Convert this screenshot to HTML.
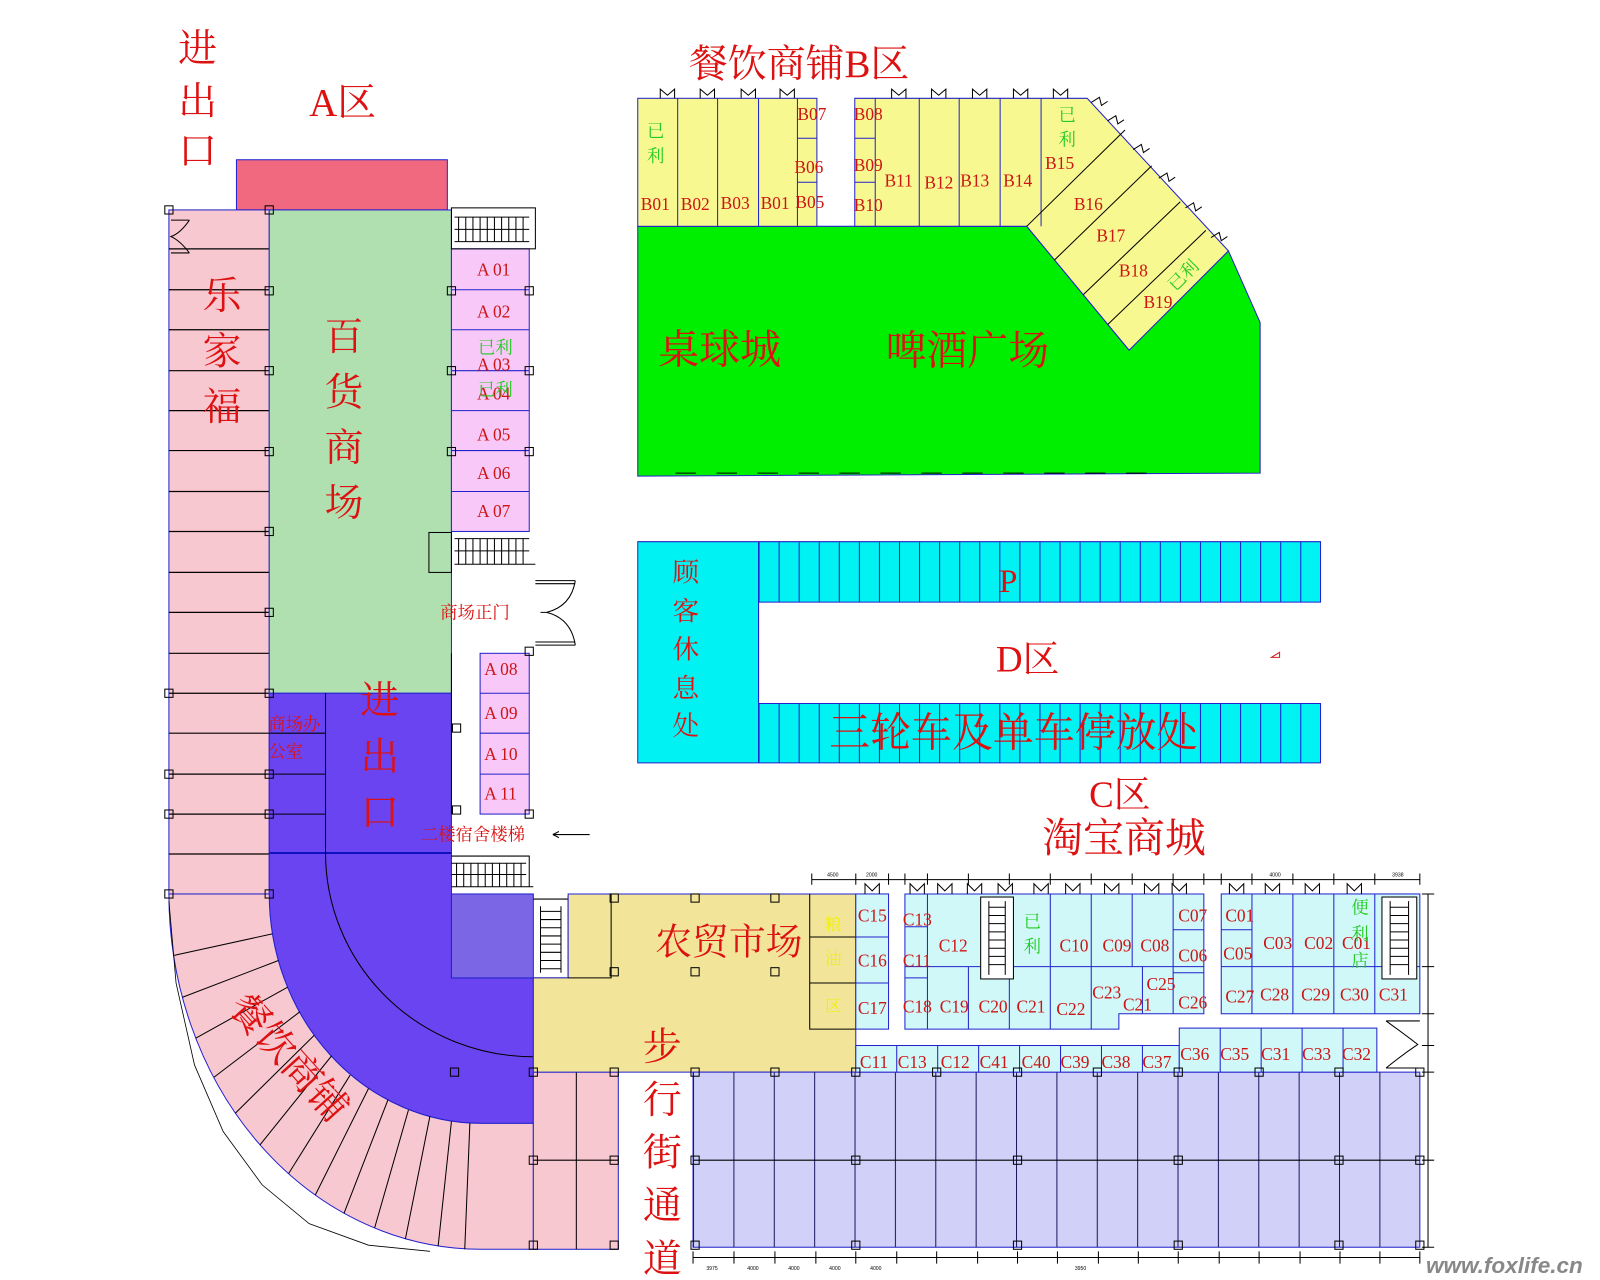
<!DOCTYPE html>
<html><head><meta charset="utf-8"><style>
html,body{margin:0;padding:0;background:#fff;}
svg{display:block;}
.cn{font-family:"Liberation Serif","Noto Serif CJK SC",serif;fill:#dd1111;}
.lb{font-family:"Liberation Serif","Noto Serif CJK SC",serif;fill:#cc1515;font-size:17px;}
.gr{font-family:"Liberation Serif","Noto Serif CJK SC",serif;fill:#22cc22;font-size:17px;}
</style></head><body>
<svg width="1600" height="1280" viewBox="0 0 1563 1250" preserveAspectRatio="none" xmlns="http://www.w3.org/2000/svg">
<defs>
<pattern id="pv20" x="741" y="0" width="19.6" height="10" patternUnits="userSpaceOnUse"><line x1="0.5" y1="0" x2="0.5" y2="10" stroke="#1a1ad0" stroke-width="1"/></pattern>
<pattern id="pv39" x="677" y="0" width="39.44" height="10" patternUnits="userSpaceOnUse"><line x1="0.5" y1="0" x2="0.5" y2="10" stroke="#1a1a60" stroke-width="1"/></pattern>
</defs>
<rect width="1563" height="1250" fill="#fff"/>

<!-- A area -->
<rect x="231" y="156" width="206" height="49" fill="#f0697f" stroke="#2222cc"/>
<rect x="165" y="205" width="98" height="668" fill="#f8c8d0" stroke="#2222cc"/>
<g stroke="#000" stroke-width="1.2">
<line x1="165" y1="243" x2="263" y2="243"/><line x1="165" y1="283" x2="263" y2="283"/><line x1="165" y1="322" x2="263" y2="322"/><line x1="165" y1="362" x2="263" y2="362"/><line x1="165" y1="401" x2="263" y2="401"/><line x1="165" y1="440" x2="263" y2="440"/><line x1="165" y1="480" x2="263" y2="480"/><line x1="165" y1="519" x2="263" y2="519"/><line x1="165" y1="559" x2="263" y2="559"/><line x1="165" y1="598" x2="263" y2="598"/><line x1="165" y1="638" x2="263" y2="638"/><line x1="165" y1="677" x2="263" y2="677"/><line x1="165" y1="716" x2="263" y2="716"/><line x1="165" y1="756" x2="263" y2="756"/><line x1="165" y1="795" x2="263" y2="795"/><line x1="165" y1="834" x2="263" y2="834"/>
</g>
<rect x="263" y="205" width="178" height="472" fill="#b0dfb0" stroke="#2222cc"/>
<!-- purple -->
<path d="M263,677 H441 V955 H521 V1097 H470 A207 224 0 0 1 263 873 Z" fill="#6a44f0" stroke="#2222cc"/>
<rect x="441" y="873" width="80" height="82" fill="#7b66e6" stroke="#2222cc"/>
<line x1="263" y1="833" x2="441" y2="833" stroke="#1010c0" stroke-width="2"/>
<line x1="318" y1="677" x2="318" y2="833" stroke="#000"/>
<line x1="263" y1="716" x2="318" y2="716" stroke="#000"/>
<line x1="263" y1="756" x2="318" y2="756" stroke="#000"/>
<line x1="263" y1="795" x2="318" y2="795" stroke="#000"/>
<path d="M318,833 A203 199 0 0 0 521 1032" fill="none" stroke="#000"/>
<!-- curved pink band -->
<path d="M165,873 H263 A207 224 0 0 0 470 1097 H521 V1220 H470 A305 347 0 0 1 165 873 Z" fill="#f8c8d0" stroke="#2222cc"/>
<g stroke="#000" stroke-width="1">
<line x1="266" y1="912" x2="170" y2="933"/><line x1="272" y1="938" x2="178" y2="974"/><line x1="281" y1="964" x2="191" y2="1014"/><line x1="293" y1="988" x2="209" y2="1052"/><line x1="307" y1="1011" x2="230" y2="1087"/><line x1="324" y1="1031" x2="254" y2="1118"/><line x1="342" y1="1050" x2="282" y2="1146"/><line x1="360" y1="1063" x2="308" y2="1167"/><line x1="379" y1="1074" x2="336" y2="1185"/><line x1="399" y1="1084" x2="366" y2="1199"/><line x1="420" y1="1090" x2="396" y2="1210"/><line x1="441" y1="1095" x2="428" y2="1217"/><line x1="459" y1="1097" x2="454" y2="1220"/>
</g>
<polyline points="165,880 172,960 190,1040 218,1105 256,1157 302,1195 360,1216 420,1222" fill="none" stroke="#000" stroke-width="0.8"/>
<rect x="521" y="1047" width="83" height="173" fill="#f8c8d0" stroke="#2222cc"/>
<line x1="563" y1="1047" x2="563" y2="1220" stroke="#000"/>
<line x1="521" y1="1133" x2="604" y2="1133" stroke="#000"/>

<!-- A shops -->
<rect x="441" y="243" width="76" height="276" fill="#f8c8f8" stroke="#2222cc"/>
<g stroke="#2222cc"><line x1="441" y1="283" x2="517" y2="283"/><line x1="441" y1="322" x2="517" y2="322"/><line x1="441" y1="362" x2="517" y2="362"/><line x1="441" y1="401" x2="517" y2="401"/><line x1="441" y1="440" x2="517" y2="440"/><line x1="441" y1="480" x2="517" y2="480"/></g>
<rect x="469" y="638" width="48" height="157" fill="#f8c8f8" stroke="#2222cc"/>
<g stroke="#2222cc"><line x1="469" y1="677" x2="517" y2="677"/><line x1="469" y1="716" x2="517" y2="716"/><line x1="469" y1="756" x2="517" y2="756"/></g>
<line x1="441" y1="638" x2="441" y2="795" stroke="#000"/>
<!-- stairs -->
<g stroke="#000" fill="none">
<rect x="441" y="203" width="82" height="40"/>
<path d="M444,212 H517 M444,224 H517 M444,236 H517 M448,212 V236 M455,212 V236 M462,212 V236 M469,212 V236 M476,212 V236 M483,212 V236 M490,212 V236 M497,212 V236 M504,212 V236 M511,212 V236"/>
<rect x="419" y="520" width="22" height="39"/>
<path d="M444,526 H517 M444,538 H517 M444,551 H523 M448,526 V551 M455,526 V551 M462,526 V551 M469,526 V551 M476,526 V551 M483,526 V551 M490,526 V551 M497,526 V551 M504,526 V551 M511,526 V551"/>
<path d="M441,836 H517 V866 M441,843 H514 M441,854 H514 M441,866 H521 M446,843 V866 M453,843 V866 M460,843 V866 M467,843 V866 M474,843 V866 M481,843 V866 M488,843 V866 M495,843 V866 M502,843 V866 M509,843 V866"/>
<path d="M521,878 H555 M521,955 H555 M528,885 V950 M548,885 V950 M528,890 H548 M528,898 H548 M528,906 H548 M528,914 H548 M528,922 H548 M528,930 H548 M528,938 H548 M528,946 H548 M555,875 V955"/>
<!-- door -->
<path d="M523,567 H562 M523,570 H562 M523,627 H562 M523,630 H562 M562,567 Q558,592 534,598 M562,630 Q558,604 534,598 M528,598 H534"/>
<path d="M167,215 H185 M167,247 H185 M185,215 Q176,228 167,231 Q176,235 185,247"/>
<path d="M540,815 H576 M540,815 l6,-3 M540,815 l6,3"/>
</g>

<!-- farmers market -->
<path d="M555,873 H836 V1047 H521 V955 H555 Z" fill="#f2e59a" stroke="#2222cc"/>
<g stroke="#000" fill="none"><path d="M555,955 H597 V873 M791,873 V1005 H836 M791,915 H836 M791,960 H836"/></g>

<!-- lavender -->
<rect x="677" y="1047" width="710" height="171" fill="#d0d0f8" stroke="#2222cc"/>
<rect x="677" y="1047" width="710" height="171" fill="url(#pv39)"/>
<line x1="677" y1="1133" x2="1387" y2="1133" stroke="#000"/>

<!-- C shops -->
<g fill="#d0f8f8" stroke="#2222cc">
<rect x="836" y="873" width="32" height="132"/>
<path d="M884,873 H1176 V990 H1093 V1005 H884 Z"/>
<rect x="1193" y="873" width="194" height="117"/>
<rect x="836" y="1021" width="316" height="26"/>
<rect x="1152" y="1004" width="193" height="43"/>
</g>
<g stroke="#2222cc" fill="none">
<path d="M836,915 H868 M836,960 H868 M884,905 H906 M884,955 H906 M906,873 V1005 M884,944 H1176 M946,944 V1005 M986,944 V1005 M1026,944 V1005 M1066,944 V1005 M1026,873 V944 M1066,873 V944 M1106,873 V944 M1146,873 V990 M1116,944 V990 M1146,908 H1176 M1146,950 H1176"/>
<path d="M1223,873 V990 M1193,908 H1223 M1193,944 H1387 M1263,873 V990 M1303,873 V990 M1343,873 V990"/>
<path d="M876,1021 V1047 M916,1021 V1047 M956,1021 V1047 M996,1021 V1047 M1036,1021 V1047 M1076,1021 V1047 M1116,1021 V1047 M1192,1004 V1047 M1232,1004 V1047 M1272,1004 V1047 M1312,1004 V1047"/>
</g>
<g fill="#fff" stroke="#000"><rect x="958" y="876" width="32" height="80"/><rect x="1350" y="876" width="34" height="80"/></g>
<g stroke="#000"><path d="M966,880 V952 M982,880 V952 M966,886 H982 M966,894 H982 M966,902 H982 M966,910 H982 M966,918 H982 M966,926 H982 M966,934 H982 M966,942 H982 M1358,880 V952 M1376,880 V952 M1358,886 H1376 M1358,894 H1376 M1358,902 H1376 M1358,910 H1376 M1358,918 H1376 M1358,926 H1376 M1358,934 H1376 M1358,942 H1376"/></g>
<!-- dimension lines -->
<g stroke="#000" stroke-width="1" fill="none">
<path d="M793,859 H1387 M793,853 V864 M836,853 V864 M868,853 V864 M884,853 V864 M906,853 V864 M946,853 V864 M986,853 V864 M1026,853 V864 M1066,853 V864 M1106,853 V864 M1146,853 V864 M1176,853 V864 M1193,853 V864 M1223,853 V864 M1263,853 V864 M1303,853 V864 M1343,853 V864 M1387,853 V864"/>
<path d="M677,1228 H1387 M677,1222 V1234 M717,1222 V1234 M757,1222 V1234 M797,1222 V1234 M836,1222 V1234 M876,1222 V1234 M915,1222 V1234 M955,1222 V1234 M994,1222 V1234 M1033,1222 V1234 M1073,1222 V1234 M1112,1222 V1234 M1151,1222 V1234 M1191,1222 V1234 M1230,1222 V1234 M1270,1222 V1234 M1309,1222 V1234 M1348,1222 V1234 M1387,1222 V1234"/>
<path d="M1395,873 V1218 M1389,873 H1401 M1389,944 H1401 M1389,990 H1401 M1389,1021 H1401 M1389,1047 H1401 M1389,1133 H1401 M1389,1218 H1401"/>
<path d="M1387,997 H1354 M1387,1043 H1354 M1354,997 Q1372,1010 1385,1020 Q1370,1030 1354,1043"/>
</g>
<g font-family="Liberation Sans" font-size="5" fill="#000">
<text x="808" y="856">4500</text><text x="846" y="856">2000</text><text x="1240" y="856">4000</text><text x="1360" y="856">3938</text>
<text x="690" y="1240">3975</text><text x="730" y="1240">4000</text><text x="770" y="1240">4000</text><text x="810" y="1240">4000</text><text x="850" y="1240">4000</text><text x="1050" y="1240">3950</text>
</g>
<!-- door icons C row -->
<g stroke="#000" fill="none" stroke-width="1">
<path d="M845,873 V863 L852,870 L859,863 V873 M889,873 V863 L896,870 L903,863 V873 M916,873 V863 L923,870 L930,863 V873 M945,873 V863 L952,870 L959,863 V873 M975,873 V863 L982,870 L989,863 V873 M1010,873 V863 L1017,870 L1024,863 V873 M1041,873 V863 L1048,870 L1055,863 V873 M1079,873 V863 L1086,870 L1093,863 V873 M1118,873 V863 L1125,870 L1132,863 V873 M1145,873 V863 L1152,870 L1159,863 V873 M1201,873 V863 L1208,870 L1215,863 V873 M1236,873 V863 L1243,870 L1250,863 V873 M1275,873 V863 L1282,870 L1289,863 V873 M1316,873 V863 L1323,870 L1330,863 V873"/>
</g>

<!-- B area -->
<polygon points="623,221 1003,221 1103,342 1200,245 1231,315 1231,462 623,465" fill="#00ee00" stroke="#2222cc"/>
<g fill="#f8f890" stroke="#2222cc">
<rect x="623" y="96" width="175" height="125"/>
<polygon points="835,96 1062,96 1200,245 1103,342 1003,221 835,221"/>
</g>
<g stroke="#2222cc" fill="none">
<path d="M662,96 V221 M701,96 V221 M741,96 V221 M779,96 V221 M779,135 H798 M779,178 H798 M855,96 V221 M835,135 H855 M835,178 H855 M898,96 V221 M937,96 V221 M977,96 V221 M1017,96 V221"/>
</g>
<g stroke="#000" fill="none"><path d="M1003,221 L1099,127 M1030,254 L1125,162 M1058,288 L1153,197 M1082,317 L1178,225"/></g>
<g stroke="#000" fill="none" stroke-width="1">
<path d="M645,96 V87 L652,93 L659,87 V96 M684,96 V87 L691,93 L698,87 V96 M724,96 V87 L731,93 L738,87 V96 M762,96 V87 L769,93 L776,87 V96 M871,96 V87 L878,93 L885,87 V96 M910,96 V87 L917,93 L924,87 V96 M950,96 V87 L957,93 L964,87 V96 M990,96 V87 L997,93 L1004,87 V96 M1029,96 V87 L1036,93 L1043,87 V96"/>
<path d="M1066,100 l8,-5 2,8 6,-4 M1082,118 l8,-5 2,8 6,-4 M1107,146 l8,-5 2,8 6,-4 M1132,174 l8,-5 2,8 6,-4 M1158,203 l8,-5 2,8 6,-4 M1183,232 l8,-5 2,8 6,-4"/>
<path d="M660,462 H680 M700,462 H720 M740,462 H760 M780,462 H800 M820,462 H840 M860,462 H880 M900,462 H920 M940,462 H960 M980,462 H1000 M1020,462 H1040 M1060,462 H1080 M1100,462 H1120"/>
</g>

<!-- D area -->
<path d="M623,529 H1290 V588 H741 V687 H1290 V745 H623 Z" fill="#00f2f2" stroke="#2222cc"/>
<rect x="741" y="529" width="549" height="59" fill="url(#pv20)"/>
<rect x="741" y="687" width="549" height="58" fill="url(#pv20)"/>
<line x1="741" y1="529" x2="741" y2="745" stroke="#2222cc"/>
<path d="M1250,642 l-8,0 8,-5 Z" fill="none" stroke="#d02020"/>

<!-- column markers -->
<g fill="none" stroke="#000" stroke-width="1">
<rect x="161" y="201" width="8" height="8"/><rect x="259" y="201" width="8" height="8"/><rect x="259" y="280" width="8" height="8"/><rect x="259" y="358" width="8" height="8"/><rect x="259" y="437" width="8" height="8"/><rect x="259" y="515" width="8" height="8"/><rect x="259" y="594" width="8" height="8"/><rect x="259" y="673" width="8" height="8"/><rect x="161" y="673" width="8" height="8"/><rect x="259" y="752" width="8" height="8"/><rect x="161" y="752" width="8" height="8"/><rect x="259" y="791" width="8" height="8"/><rect x="161" y="791" width="8" height="8"/><rect x="259" y="869" width="8" height="8"/><rect x="161" y="869" width="8" height="8"/>
<rect x="437" y="280" width="8" height="8"/><rect x="513" y="280" width="8" height="8"/><rect x="437" y="358" width="8" height="8"/><rect x="513" y="358" width="8" height="8"/><rect x="437" y="437" width="8" height="8"/><rect x="513" y="437" width="8" height="8"/>
<rect x="442" y="707" width="8" height="8"/><rect x="442" y="787" width="8" height="8"/><rect x="513" y="632" width="8" height="8"/><rect x="513" y="791" width="8" height="8"/>
<rect x="596" y="873" width="8" height="8"/><rect x="675" y="873" width="8" height="8"/><rect x="753" y="873" width="8" height="8"/><rect x="596" y="945" width="8" height="8"/><rect x="675" y="945" width="8" height="8"/><rect x="753" y="945" width="8" height="8"/>
<rect x="440" y="1043" width="8" height="8"/><rect x="517" y="1043" width="8" height="8"/><rect x="596" y="1043" width="8" height="8"/><rect x="675" y="1043" width="8" height="8"/><rect x="753" y="1043" width="8" height="8"/><rect x="832" y="1043" width="8" height="8"/><rect x="911" y="1043" width="8" height="8"/><rect x="990" y="1043" width="8" height="8"/><rect x="1068" y="1043" width="8" height="8"/><rect x="1147" y="1043" width="8" height="8"/><rect x="1226" y="1043" width="8" height="8"/><rect x="1304" y="1043" width="8" height="8"/><rect x="1383" y="1043" width="8" height="8"/>
<rect x="517" y="1129" width="8" height="8"/><rect x="596" y="1129" width="8" height="8"/><rect x="675" y="1129" width="8" height="8"/><rect x="832" y="1129" width="8" height="8"/><rect x="990" y="1129" width="8" height="8"/><rect x="1147" y="1129" width="8" height="8"/><rect x="1304" y="1129" width="8" height="8"/><rect x="1383" y="1129" width="8" height="8"/>
<rect x="517" y="1212" width="8" height="8"/><rect x="596" y="1212" width="8" height="8"/><rect x="675" y="1212" width="8" height="8"/><rect x="832" y="1212" width="8" height="8"/><rect x="990" y="1212" width="8" height="8"/><rect x="1147" y="1212" width="8" height="8"/><rect x="1304" y="1212" width="8" height="8"/><rect x="1383" y="1212" width="8" height="8"/>
</g>

<!-- Big labels -->
<g class="cn" font-size="38">
<text x="174" y="60">进</text><text x="174" y="112">出</text><text x="174" y="160">口</text>
<text x="302" y="113">A区</text>
<text x="198" y="302">乐</text><text x="198" y="356">家</text><text x="198" y="410">福</text>
<text x="317" y="342">百</text><text x="317" y="396">货</text><text x="317" y="450">商</text><text x="317" y="504">场</text>
<text x="352" y="697">进</text><text x="352" y="752">出</text><text x="352" y="806">口</text>
<text x="673" y="75">餐饮商铺B区</text>
<text x="643" y="355" font-size="40">桌球城</text>
<text x="865" y="356" font-size="40">啤酒广场</text>
<text x="976" y="578" font-size="32">P</text>
<text x="973" y="656" font-size="36">D区</text>
<text x="810" y="729" font-size="40">三轮车及单车停放处</text>
<text x="1064" y="788" font-size="36">C区</text>
<text x="1018" y="832" font-size="40">淘宝商城</text>
<text x="640" y="932" font-size="36">农贸市场</text>
<text x="628" y="1035">步</text><text x="628" y="1087">行</text><text x="628" y="1138">街</text><text x="628" y="1190">通</text><text x="628" y="1242">道</text>
<text transform="translate(222,985) rotate(48)" font-size="38">餐饮商铺</text>
</g>
<g class="cn" font-size="26">
<text x="657" y="568">顾</text><text x="657" y="606">客</text><text x="657" y="643">休</text><text x="657" y="681">息</text><text x="657" y="718">处</text>
</g>
<g class="cn" font-size="17">
<text x="430" y="604">商场正门</text>
<text x="262" y="713">商场办</text><text x="262" y="740">公室</text>
<text x="411" y="821">二楼宿舍楼梯</text>
</g>
<g fill="#f0f000" font-family="Noto Serif CJK SC,serif" font-size="16"><text x="806" y="908">粮</text><text x="806" y="942">油</text><text x="806" y="988">区</text></g>

<!-- A labels -->
<g class="lb">
<text x="466" y="269">A 01</text><text x="466" y="310">A 02</text><text x="466" y="362">A 03</text><text x="466" y="390">A 04</text><text x="466" y="430">A 05</text><text x="466" y="468">A 06</text><text x="466" y="505">A 07</text>
<text x="473" y="659">A 08</text><text x="473" y="702">A 09</text><text x="473" y="742">A 10</text><text x="473" y="781">A 11</text>
</g>
<g class="gr"><text x="467" y="345">已利</text><text x="467" y="386">已利</text></g>

<!-- B labels -->
<g class="lb">
<text x="626" y="205">B01</text><text x="665" y="205">B02</text><text x="704" y="204">B03</text><text x="743" y="204">B01</text>
<text x="779" y="117">B07</text><text x="776" y="169">B06</text><text x="777" y="203">B05</text>
<text x="834" y="117">B08</text><text x="834" y="167">B09</text><text x="834" y="206">B10</text>
<text x="864" y="182">B11</text><text x="903" y="184">B12</text><text x="938" y="182">B13</text><text x="980" y="182">B14</text>
<text x="1021" y="165">B15</text><text x="1049" y="205">B16</text><text x="1071" y="236">B17</text><text x="1093" y="270">B18</text><text x="1117" y="301">B19</text>
</g>
<g class="gr" font-size="19"><text x="632" y="134">已</text><text x="632" y="158">利</text><text x="1034" y="118">已</text><text x="1034" y="142">利</text>
<text transform="translate(1148,285) rotate(-45)">已利</text></g>

<!-- C labels -->
<g class="lb">
<text x="838" y="900">C15</text><text x="838" y="944">C16</text><text x="838" y="990">C17</text>
<text x="882" y="904">C13</text><text x="882" y="944">C11</text><text x="917" y="929">C12</text>
<text x="882" y="989">C18</text><text x="918" y="989">C19</text><text x="956" y="989">C20</text><text x="993" y="989">C21</text><text x="1032" y="991">C22</text>
<text x="1035" y="929">C10</text><text x="1077" y="929">C09</text><text x="1114" y="929">C08</text>
<text x="1151" y="900">C07</text><text x="1151" y="939">C06</text>
<text x="1067" y="975">C23</text><text x="1097" y="987">C21</text><text x="1120" y="967">C25</text><text x="1151" y="985">C26</text>
<text x="1197" y="900">C01</text><text x="1195" y="937">C05</text><text x="1234" y="927">C03</text><text x="1274" y="927">C02</text><text x="1311" y="927">C01</text>
<text x="1197" y="979">C27</text><text x="1231" y="977">C28</text><text x="1271" y="977">C29</text><text x="1309" y="977">C30</text><text x="1347" y="977">C31</text>
<text x="840" y="1043">C11</text><text x="877" y="1043">C13</text><text x="919" y="1043">C12</text><text x="957" y="1043">C41</text><text x="998" y="1043">C40</text><text x="1036" y="1043">C39</text><text x="1076" y="1043">C38</text><text x="1116" y="1043">C37</text>
<text x="1153" y="1035">C36</text><text x="1192" y="1035">C35</text><text x="1232" y="1035">C31</text><text x="1272" y="1035">C33</text><text x="1311" y="1035">C32</text>
</g>
<g class="gr" font-size="19"><text x="1000" y="906">已</text><text x="1000" y="930">利</text><text x="1320" y="892">便</text><text x="1320" y="918">利</text><text x="1320" y="944">店</text></g>

<text x="1393" y="1243" font-family="Liberation Sans,sans-serif" font-size="22" font-weight="bold" font-style="italic" fill="#888">www.foxlife.cn</text>
</svg>
</body></html>
